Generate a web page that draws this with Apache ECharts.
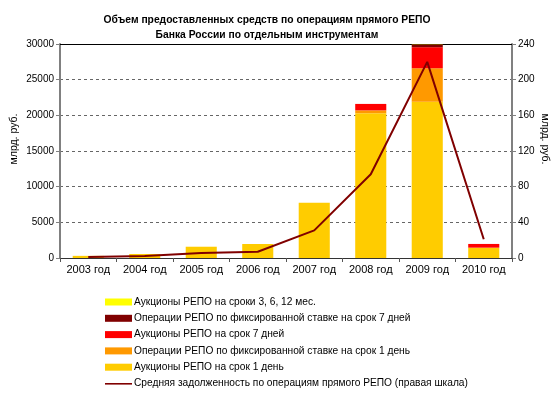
<!DOCTYPE html>
<html>
<head>
<meta charset="utf-8">
<script src="https://cdn.jsdelivr.net/npm/echarts@6/dist/echarts.min.js"></script>
<style>
  html, body { margin: 0; padding: 0; background: #fff; }
  #chart { width: 559px; height: 397px; }
</style>
</head>
<body>
<div id="chart"></div>
<script>
// годы
var years = ['2003 год', '2004 год', '2005 год', '2006 год', '2007 год', '2008 год', '2009 год', '2010 год'];
// объемы, млрд. руб. (снизу вверх в стопке)
var auc1d   = [300, 560, 1580, 1960, 7750, 20300, 21900, 1450];   // Аукционы РЕПО на срок 1 день
var fix1d   = [0, 0, 0, 0, 0, 400, 4700, 0];                      // фикс. ставка 1 день
var auc7d   = [0, 0, 0, 0, 0, 900, 2950, 520];                    // Аукционы на срок 7 дней
var fix7d   = [0, 0, 0, 0, 0, 0, 380, 0];                         // фикс. ставка 7 дней
var auc3612 = [0, 0, 0, 0, 0, 0, 40, 0];                          // Аукционы 3, 6, 12 мес.
// средняя задолженность (правая шкала)
var avgDebt = [1, 2.2, 5.5, 7, 31, 94, 220, 21];

var names = [
  'Аукционы РЕПО на сроки 3, 6, 12 мес.',
  'Операции РЕПО по фиксированной ставке на срок 7 дней',
  'Аукционы РЕПО на срок 7 дней',
  'Операции РЕПО по фиксированной ставке на срок 1 день',
  'Аукционы РЕПО на срок 1 день',
  'Средняя задолженность по операциям прямого РЕПО (правая шкала)'
];

var myChart = echarts.init(document.getElementById('chart'));

function bar(name, data, color) {
  return {
    name: name, type: 'bar', stack: 'v', data: data,
    barWidth: '55%',
    itemStyle: { color: color },
    emphasis: { disabled: true }
  };
}

var plain = function (v) { return String(v); };
// тонкая линия в легенде (невидимые точки задают рамку 27x7)
var lineIcon = 'path://M0,0L0,0M0,3L27,3L27,4.6L0,4.6ZM27,7L27,7';

var option = {
  animation: false,
  textStyle: { fontFamily: 'Liberation Sans, Arial, sans-serif' },
  title: {
    text: 'Объем предоставленных средств по операциям прямого РЕПО\nБанка России по отдельным инструментам',
    left: 262, top: 8, textAlign: 'center',
    textStyle: { fontSize: 10.3, fontWeight: 'bold', color: '#000', lineHeight: 15 }
  },
  legend: {
    orient: 'vertical',
    left: 105, top: 297, height: 110, padding: 0,
    itemWidth: 27, itemHeight: 7, itemGap: 6.3,
    icon: 'rect',
    textStyle: { fontSize: 10.2, color: '#000', padding: [0, 0, 0, -3] },
    data: names.slice(0, 5).concat([{ name: names[5], icon: lineIcon }])
  },
  grid: { left: 60, right: 47, top: 44, bottom: 139, outerBoundsMode: 'none' },
  xAxis: [{
    type: 'category', data: years,
    axisLine: { lineStyle: { color: '#333', width: 1 } },
    axisTick: { show: true, lineStyle: { color: '#555' }, length: 4 },
    axisLabel: { color: '#000', fontSize: 11, margin: 6, interval: 0 }
  }, {
    type: 'category', data: years, position: 'top',
    axisLine: { onZero: false, lineStyle: { color: '#000', width: 1 } },
    axisTick: { show: false }, axisLabel: { show: false }
  }],
  yAxis: [{
    type: 'value', min: 0, max: 30000, interval: 5000,
    name: 'млрд. руб.', nameLocation: 'middle', nameGap: 40, nameMoveOverlap: false,
    nameTextStyle: { fontSize: 10.5, color: '#000', padding: [0, 0, 0, 24] },
    axisLine: { show: true, lineStyle: { color: '#808080', width: 2 } },
    axisTick: { show: true, length: 4, lineStyle: { color: '#808080' } },
    axisLabel: { color: '#000', fontSize: 10, margin: 6, formatter: plain },
    splitLine: { showMaxLine: false, lineStyle: { color: '#666', type: [3, 3] } }
  }, {
    type: 'value', min: 0, max: 240, interval: 40,
    name: 'млрд. руб.', nameLocation: 'middle', nameGap: 27, nameRotate: -90, nameMoveOverlap: false,
    nameTextStyle: { fontSize: 10.5, color: '#000', padding: [0, 24, 0, 0] },
    axisLine: { show: true, lineStyle: { color: '#808080', width: 2 } },
    axisTick: { show: true, length: 4, lineStyle: { color: '#808080' } },
    axisLabel: { color: '#000', fontSize: 10, margin: 6, formatter: plain },
    splitLine: { show: false }
  }],
  series: [
    bar(names[4], auc1d, '#FFCC00'),
    bar(names[3], fix1d, '#FF9900'),
    bar(names[2], auc7d, '#FF0000'),
    bar(names[1], fix7d, '#800000'),
    bar(names[0], auc3612, '#FFFF00'),
    {
      name: names[5], type: 'line', yAxisIndex: 1, data: avgDebt,
      symbol: 'none', lineStyle: { color: '#800000', width: 2 },
      itemStyle: { color: '#800000' },
      emphasis: { disabled: true }
    }
  ]
};

myChart.setOption(option);
</script>
</body>
</html>
